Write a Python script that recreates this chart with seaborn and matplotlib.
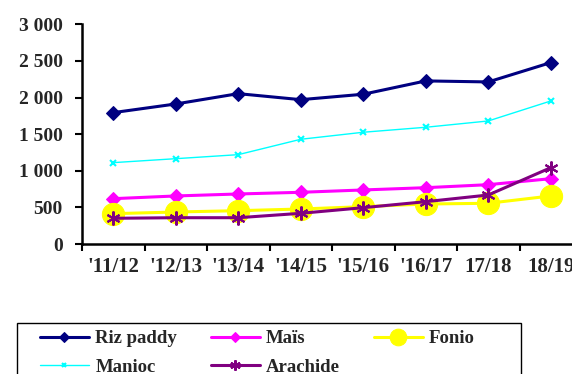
import matplotlib
matplotlib.use("Agg")
import matplotlib.pyplot as plt
from matplotlib.patches import Rectangle
import seaborn as sns
import pandas as pd
import numpy as np

campaigns = ["'11/12", "'12/13", "'13/14", "'14/15", "'15/16", "'16/17", "17/18", "18/19"]
riz_paddy = [1794, 1912, 2053, 1971, 2045, 2227, 2213, 2477]
manioc = [1111, 1165, 1220, 1430, 1526, 1594, 1680, 1953]
mais = [619, 656, 683, 706, 738, 769, 810, 892]
fonio = [414, 437, 455, 478, 510, 546, 556, 656]
arachide = [351, 359, 359, 419, 496, 578, 669, 1042]

sns.set_theme(style="white")
plt.rcParams['font.family'] = ['Liberation Serif', 'DejaVu Serif']
plt.rcParams['font.weight'] = 'bold'

fig = plt.figure(figsize=(5.72, 3.74), dpi=100)
ax = fig.add_axes([82/572, 1-244/374, 500/572, (244-24.3)/374])

pos = np.arange(len(campaigns))
styles = [
    ("Riz paddy", riz_paddy, dict(color="#000080", lw=2.2, marker="D", ms=7, mec="#000080", mfc="#000080")),
    ("Maïs", mais, dict(color="#FF00FF", lw=2.2, marker="D", ms=7, mec="#FF00FF", mfc="#FF00FF")),
    ("Fonio", fonio, dict(color="#FFFF00", lw=2.2, marker="o", ms=16, mec="#FFFF00", mfc="#FFFF00")),
    ("Manioc", manioc, dict(color="#00FFFF", lw=1.0, marker="x", ms=4, mew=1.5, mec="#00FFFF")),
    ("Arachide", arachide, dict(color="#800080", lw=2.2, marker=(6, 2, 0), ms=10, mew=1.5, mec="#800080")),
]
handles = {}
for name, vals, kw in styles:
    df = pd.DataFrame({"x": pos, "y": vals})
    sns.lineplot(data=df, x="x", y="y", ax=ax, label=name, **kw)
    handles[name] = ax.get_lines()[-1]
ax.get_legend().remove()

ax.set_xlim(-0.5, 7.5)
ax.set_ylim(0, 3000)
ax.set_yticks(np.arange(0, 3001, 500))
ax.set_yticklabels(["0", "500", "1 000", "1 500", "2 000", "2 500", "3 000"])
ax.set_xticks(np.arange(-0.5, 8, 1))
ax.set_xticklabels([])
ax.set_xticks(pos, minor=True)
ax.set_xticklabels(campaigns, minor=True)
ax.tick_params(axis="x", which="major", direction="out", length=5, width=1.5, color="black", bottom=True)
ax.tick_params(axis="x", which="minor", length=0, pad=9, labelsize=15)
ax.tick_params(axis="y", direction="out", length=5, width=1.5, color="black", left=True, labelsize=14, pad=9)
for s in ["top", "right"]:
    ax.spines[s].set_visible(False)
for s in ["left", "bottom"]:
    ax.spines[s].set_color("black")
    ax.spines[s].set_linewidth(1.8)
ax.set_xlabel("")
ax.set_ylabel("")
ax.grid(False)

fig.patches.append(Rectangle((17/572, -0.1), (521-17)/572, 0.1 + 1-323/374,
                             transform=fig.transFigure, fill=False,
                             edgecolor="black", linewidth=1.0))

order = ["Riz paddy", "Manioc", "Maïs", "Arachide", "Fonio"]
leg = fig.legend([handles[n] for n in order], order, loc="upper left",
                 bbox_to_anchor=(40/572, 1-330/374),
                 ncol=3, frameon=False, fontsize=13.5, handlelength=2.6,
                 handletextpad=0.35, columnspacing=1.8,
                 borderaxespad=0, borderpad=0, labelspacing=0.6,
                 markerscale=0.75)

fig.savefig("out.png", dpi=100)
